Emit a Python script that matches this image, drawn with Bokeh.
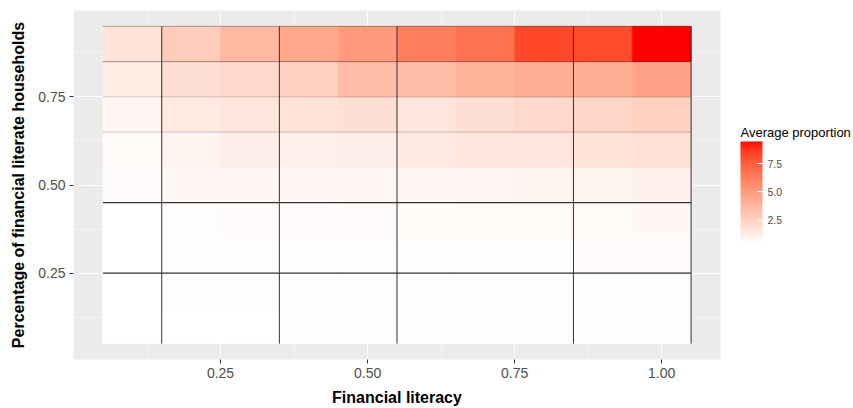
import numpy as np
from bokeh.plotting import figure
from bokeh.layouts import row
from bokeh.models import (Range1d, FixedTicker, LinearColorMapper, ColorBar,
                          ColumnDataSource, PrintfTickFormatter, Label)
from bokeh.transform import transform
from bokeh.embed import file_html
from bokeh.resources import INLINE

# ---------------- data ----------------
fin_literacy = [0.1, 0.2, 0.3, 0.4, 0.5, 0.6, 0.7, 0.8, 0.9, 1.0]
pct_households = [0.1, 0.2, 0.3, 0.4, 0.5, 0.6, 0.7, 0.8, 0.9]
# average proportion, one row per pct_households value (bottom -> top)
row_01 = [0.35, 0.38, 0.38, 0.39, 0.39, 0.40, 0.40, 0.41, 0.41, 0.42]
row_02 = [0.36, 0.40, 0.40, 0.41, 0.41, 0.42, 0.42, 0.43, 0.43, 0.44]
row_03 = [0.36, 0.44, 0.44, 0.46, 0.46, 0.49, 0.49, 0.49, 0.53, 0.53]
row_04 = [0.35, 0.49, 0.53, 0.53, 0.53, 0.58, 0.58, 0.62, 0.62, 0.67]
row_05 = [0.53, 0.71, 0.76, 0.67, 0.81, 0.76, 0.81, 0.90, 0.94, 0.99]
row_06 = [0.62, 0.90, 1.17, 1.08, 1.17, 1.44, 1.53, 1.62, 1.72, 1.81]
row_07 = [0.81, 1.35, 1.53, 1.72, 1.90, 1.62, 1.90, 2.17, 2.26, 2.53]
row_08 = [1.26, 1.90, 2.17, 2.53, 3.54, 3.54, 3.90, 4.26, 4.26, 4.72]
row_09 = [1.72, 2.81, 3.72, 4.45, 5.08, 6.27, 6.72, 8.27, 8.18, 9.45]
rows = [row_01, row_02, row_03, row_04, row_05, row_06, row_07, row_08, row_09]

x_ticks = [0.25, 0.50, 0.75, 1.00]
y_ticks = [0.25, 0.50, 0.75]
legend_ticks = [2.5, 5.0, 7.5]
legend_title = "Average proportion"
vline_x = [0.15, 0.35, 0.55, 0.85, 1.05]
hline_dark_y = [0.25, 0.45]
hline_light_y = [0.65, 0.75, 0.85, 0.95]

# ---------------- colour ramp (white -> red, Lab interpolation) ----------------
def srgb_to_lab(rgb):
    rgb = np.asarray(rgb, float) / 255.0
    lin = np.where(rgb <= 0.04045, rgb / 12.92, ((rgb + 0.055) / 1.055) ** 2.4)
    M = np.array([[0.4124, 0.3576, 0.1805],
                  [0.2126, 0.7152, 0.0722],
                  [0.0193, 0.1192, 0.9505]])
    xyz = M @ lin
    wp = np.array([0.95047, 1.0, 1.08883])
    t = xyz / wp
    f = np.where(t > 0.008856, np.cbrt(t), 7.787 * t + 16 / 116)
    return np.array([116 * f[1] - 16, 500 * (f[0] - f[1]), 200 * (f[1] - f[2])])

def lab_to_srgb(lab):
    L, a, b = lab
    fy = (L + 16) / 116
    fx = fy + a / 500
    fz = fy - b / 200
    f = np.array([fx, fy, fz])
    t = np.where(f ** 3 > 0.008856, f ** 3, (f - 16 / 116) / 7.787)
    xyz = t * np.array([0.95047, 1.0, 1.08883])
    Minv = np.array([[3.2406, -1.5372, -0.4986],
                     [-0.9689, 1.8758, 0.0415],
                     [0.0557, -0.2040, 1.0570]])
    lin = Minv @ xyz
    lin = np.clip(lin, 0, 1)
    rgb = np.where(lin <= 0.0031308, 12.92 * lin, 1.055 * lin ** (1 / 2.4) - 0.055)
    rgb = np.clip(np.round(rgb * 255), 0, 255).astype(int)
    return "#%02x%02x%02x" % tuple(rgb)

lab_lo = srgb_to_lab([255, 255, 255])
lab_hi = srgb_to_lab([255, 0, 0])
palette = [lab_to_srgb(lab_lo + (lab_hi - lab_lo) * s) for s in np.linspace(0, 1, 256)]

# ---------------- table ----------------
xs, ys, vals = [], [], []
for yi, r in zip(pct_households, rows):
    for xi, v in zip(fin_literacy, r):
        xs.append(xi)
        ys.append(yi)
        vals.append(v)
src = ColumnDataSource(dict(x=xs, y=ys, v=vals))

mapper = LinearColorMapper(palette=palette, low=min(vals), high=max(vals))

FONT = "Liberation Sans"

p = figure(width=733, height=408, output_backend="svg", toolbar_location=None,
           x_range=Range1d(0.0, 1.1), y_range=Range1d(0.005, 0.995),
           min_border_left=73, min_border_right=13, min_border_top=10,
           min_border_bottom=48)
p.background_fill_color = "#EBEBEB"
p.border_fill_color = "white"
p.outline_line_color = None

# grid
p.xgrid.ticker = FixedTicker(ticks=x_ticks, minor_ticks=[0.125, 0.375, 0.625, 0.875])
p.ygrid.ticker = FixedTicker(ticks=y_ticks, minor_ticks=[0.125, 0.375, 0.625, 0.875])
for g in (p.xgrid, p.ygrid):
    g.grid_line_color = "white"
    g.grid_line_width = 1.1
    g.minor_grid_line_color = "white"
    g.minor_grid_line_width = 0.5

# tiles
p.rect(x="x", y="y", width=0.1, height=0.1, source=src,
       fill_color=transform("v", mapper), line_color=transform("v", mapper),
       line_width=0.6)

# lines
p.segment(x0=vline_x, x1=vline_x, y0=[0.05] * len(vline_x), y1=[0.95] * len(vline_x),
          line_color="#333333", line_width=1)
p.segment(x0=[0.05] * len(hline_dark_y), x1=[1.05] * len(hline_dark_y),
          y0=hline_dark_y, y1=hline_dark_y, line_color="#333333", line_width=1.1)
p.segment(x0=[0.05] * len(hline_light_y), x1=[1.05] * len(hline_light_y),
          y0=hline_light_y, y1=hline_light_y, line_color="#000000",
          line_alpha=[0.2, 0.18, 0.38, 0.3], line_width=1)

# axes
p.xaxis.ticker = FixedTicker(ticks=x_ticks)
p.yaxis.ticker = FixedTicker(ticks=y_ticks)
p.xaxis.formatter = PrintfTickFormatter(format="%.2f")
p.yaxis.formatter = PrintfTickFormatter(format="%.2f")
p.xaxis.axis_label = "Financial literacy"
p.yaxis.axis_label = "Percentage of financial literate households"
for ax in (p.xaxis, p.yaxis):
    ax.axis_line_color = None
    ax.major_tick_line_color = "#333333"
    ax.major_tick_out = 4
    ax.major_tick_in = 0
    ax.minor_tick_out = 0
    ax.minor_tick_in = 0
    ax.major_label_text_font = FONT
    ax.major_label_text_font_size = "14px"
    ax.major_label_text_color = "#4D4D4D"
    ax.major_label_standoff = 4
    ax.axis_label_text_font = FONT
    ax.axis_label_text_font_size = "16px"
    ax.axis_label_text_font_style = "bold"
    ax.axis_label_text_color = "black"
    ax.axis_label_standoff = 8

# ---------------- legend panel (frame aligned with main frame: 10..360) ----------------
leg = figure(width=120, height=408, output_backend="svg", toolbar_location=None,
             x_range=Range1d(0, 120), y_range=Range1d(48, 398),
             x_axis_location=None, y_axis_location=None,
             min_border_left=0, min_border_right=0, min_border_top=10,
             min_border_bottom=48)
leg.grid.visible = False
leg.outline_line_color = None
leg.background_fill_color = "white"
leg.border_fill_color = "white"

cb = ColorBar(color_mapper=mapper, ticker=FixedTicker(ticks=legend_ticks),
              formatter=PrintfTickFormatter(format="%.1f"),
              title=None,
              width=22, height=103, margin=0, padding=0,
              location=(7, 115), orientation="vertical",
              major_label_text_font=FONT, major_label_text_font_size="10.5px",
              major_label_text_color="#4D4D4D",
              major_tick_line_color="white", major_tick_in=5, major_tick_out=0,
              minor_tick_line_color=None, bar_line_color=None,
              background_fill_color=None, border_line_color=None,
              label_standoff=5)
leg.add_layout(cb, "center")

title_lbl = Label(x=7, y=276, text=legend_title, text_font=FONT,
                  text_font_size="13px", text_color="black",
                  text_baseline="alphabetic", text_align="left")
leg.add_layout(title_lbl)

layout = row(p, leg, spacing=0)
open("out.html", "w").write(file_html(layout, INLINE))
